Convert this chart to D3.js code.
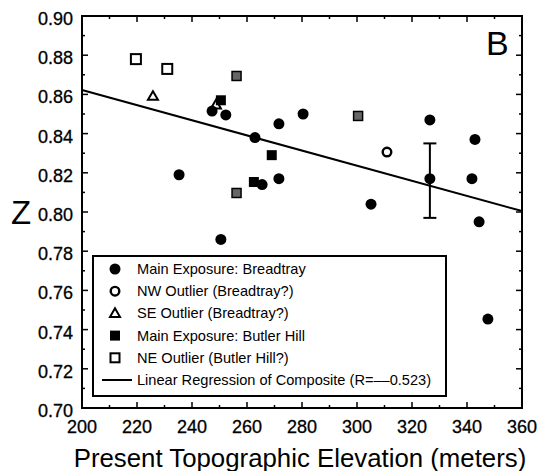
<!DOCTYPE html>
<html>
<head>
<meta charset="utf-8">
<script src="https://cdn.jsdelivr.net/npm/d3@7"></script>
<style>
    body { margin: 0; background: #fff; }
    svg { display: block; font-family: "Liberation Sans", Arial, Helvetica, sans-serif; }
</style>
</head>
<body>
<div class="svg-class"></div>
<script>
// data: [elevation (m), Z]
var mainBreadtray = [[235.3, 0.819], [247.3, 0.8515], [252.3, 0.8495], [262.9, 0.838], [265.5, 0.814],
    [250.5, 0.786], [271.6, 0.845], [280.4, 0.850], [271.6, 0.817], [305.1, 0.804], [326.5, 0.847],
    [326.5, 0.817], [342.9, 0.837], [341.8, 0.817], [344.4, 0.795], [347.6, 0.7454]];
var nwOutlier = [[310.9, 0.8306]];
var seOutlier = [[225.8, 0.859], [248.7, 0.8546]];
var mainButler = [[250.5, 0.857], [269.0, 0.829], [262.5, 0.8153]];
var neOutlier = [[219.6, 0.878], [231.0, 0.873]];
var neShaded = [[256.2, 0.8694], [256.2, 0.8097], [300.4, 0.849]];
var errorBar = [{ x: 326.5, lo: 0.797, hi: 0.835 }];
var regression = { x0: 200, y0: 0.8622, x1: 360, y1: 0.8005 };

var xTicks = [200, 220, 240, 260, 280, 300, 320, 340, 360];
var yTicks = [0.70, 0.72, 0.74, 0.76, 0.78, 0.80, 0.82, 0.84, 0.86, 0.88, 0.90];
var legendLabels = ["Main Exposure: Breadtray", "NW Outlier (Breadtray?)", "SE Outlier (Breadtray?)",
    "Main Exposure: Butler Hill", "NE Outlier (Butler Hill?)", "Linear Regression of Composite (R=\u2013\u20130.523)"];

var width = 541, height = 471;
var margin = { top: 16, right: 19, bottom: 63, left: 82 };

var svg = d3.select(".svg-class")
    .append("svg")
    .attr("width", width)
    .attr("height", height);

var x = d3.scaleLinear().domain([200, 360]).range([margin.left, width - margin.right]);
var y = d3.scaleLinear().domain([0.70, 0.90]).range([height - margin.bottom, margin.top]);

// minor ticks every 10 m / 0.01
var xMinor = d3.range(200, 361, 10);
var yMinor = d3.range(0, 21).map(function (i) { return 0.70 + i * 0.01; });

// ticks pointing inward on all four sides
function tickSize(major) { return major ? 6 : 3; }

var axes = svg.append("g").attr("stroke", "#000").attr("stroke-width", 1.5);
xMinor.forEach(function (v, i) {
    var L = tickSize(i % 2 === 0);
    axes.append("line").attr("x1", x(v)).attr("x2", x(v)).attr("y1", y(0.70)).attr("y2", y(0.70) - L);
    axes.append("line").attr("x1", x(v)).attr("x2", x(v)).attr("y1", y(0.90)).attr("y2", y(0.90) + L);
});
yMinor.forEach(function (v, i) {
    var L = tickSize(i % 2 === 0);
    axes.append("line").attr("y1", y(v)).attr("y2", y(v)).attr("x1", x(200)).attr("x2", x(200) + L);
    axes.append("line").attr("y1", y(v)).attr("y2", y(v)).attr("x1", x(360)).attr("x2", x(360) - L);
});

// tick labels (slight stroke to match the heavy scanned type)
svg.append("g").selectAll("text")
    .data(xTicks)
    .enter().append("text")
    .attr("x", function (d) { return x(d); })
    .attr("y", 433)
    .attr("text-anchor", "middle")
    .attr("font-size", "18px")
    .attr("stroke", "#000").attr("stroke-width", 0.3)
    .text(function (d) { return d; });

svg.append("g").selectAll("text")
    .data(yTicks)
    .enter().append("text")
    .attr("x", 73)
    .attr("y", function (d) { return y(d) + 9; })
    .attr("text-anchor", "end")
    .attr("font-size", "18px")
    .attr("stroke", "#000").attr("stroke-width", 0.3)
    .text(function (d) { return d3.format(".2f")(d); });

// axis titles
svg.append("text")
    .attr("x", 300)
    .attr("y", 467)
    .attr("text-anchor", "middle")
    .attr("font-size", "25.8px")
    .text("Present Topographic Elevation (meters)");

svg.append("text")
    .attr("x", 11)
    .attr("y", 224)
    .attr("font-size", "33px")
    .text("Z");

svg.append("text")
    .attr("x", 486)
    .attr("y", 55)
    .attr("font-size", "34px")
    .text("B");

// regression line
svg.append("line")
    .attr("x1", x(regression.x0)).attr("y1", y(regression.y0))
    .attr("x2", x(regression.x1)).attr("y2", y(regression.y1))
    .attr("stroke", "#000").attr("stroke-width", 2);

// error bar
var eb = svg.append("g").attr("stroke", "#000").attr("stroke-width", 2);
errorBar.forEach(function (d) {
    eb.append("line").attr("x1", x(d.x)).attr("x2", x(d.x)).attr("y1", y(d.lo)).attr("y2", y(d.hi));
    eb.append("line").attr("x1", x(d.x) - 6.5).attr("x2", x(d.x) + 6.5).attr("y1", y(d.lo)).attr("y2", y(d.lo));
    eb.append("line").attr("x1", x(d.x) - 6.5).attr("x2", x(d.x) + 6.5).attr("y1", y(d.hi)).attr("y2", y(d.hi));
});

// marker drawers
function triPath(cx, cy, s) {
    var h = s * 0.87;
    return "M" + cx + "," + (cy - h * 0.6) + "L" + (cx + s / 2) + "," + (cy + h * 0.4) + "L" + (cx - s / 2) + "," + (cy + h * 0.4) + "Z";
}
function drawCircles(g, data, filled) {
    g.selectAll(null).data(data).enter().append("circle")
        .attr("cx", function (d) { return x(d[0]); })
        .attr("cy", function (d) { return y(d[1]); })
        .attr("r", filled ? 5.5 : 4.3)
        .attr("fill", filled ? "#000" : "#fff")
        .attr("stroke", "#000")
        .attr("stroke-width", filled ? 0 : 2.4);
}
function drawSquares(g, data, fill, stroke, s) {
    g.selectAll(null).data(data).enter().append("rect")
        .attr("x", function (d) { return x(d[0]) - s / 2; })
        .attr("y", function (d) { return y(d[1]) - s / 2; })
        .attr("width", s)
        .attr("height", s)
        .attr("fill", fill)
        .attr("stroke", "#000")
        .attr("stroke-width", stroke);
}
function drawTriangles(g, data) {
    g.selectAll(null).data(data).enter().append("path")
        .attr("d", function (d) { return triPath(x(d[0]), y(d[1]), 10); })
        .attr("fill", "#fff")
        .attr("stroke", "#000")
        .attr("stroke-width", 2);
}

var pts = svg.append("g");
drawSquares(pts, neOutlier, "#fff", 2, 10);
drawSquares(pts, neShaded, "#666", 1.5, 9);
drawTriangles(pts, seOutlier);
drawSquares(pts, mainButler, "#000", 0, 10);
drawCircles(pts, mainBreadtray, true);
drawCircles(pts, nwOutlier, false);

// frame
svg.append("rect")
    .attr("x", x(200)).attr("y", y(0.90))
    .attr("width", x(360) - x(200)).attr("height", y(0.70) - y(0.90))
    .attr("fill", "none").attr("stroke", "#000").attr("stroke-width", 2);

// legend
var legend = svg.append("g");
legend.append("rect")
    .attr("x", 93).attr("y", 256).attr("width", 353).attr("height", 140)
    .attr("fill", "#fff").attr("stroke", "#000").attr("stroke-width", 2);

var rowY = function (i) { return 269 + i * 22.2; };
var sx = 115;
legend.append("circle").attr("cx", sx).attr("cy", rowY(0)).attr("r", 5.5).attr("fill", "#000");
legend.append("circle").attr("cx", sx).attr("cy", rowY(1)).attr("r", 4.3).attr("fill", "#fff").attr("stroke", "#000").attr("stroke-width", 2.4);
legend.append("path").attr("d", triPath(sx, rowY(2), 10)).attr("fill", "#fff").attr("stroke", "#000").attr("stroke-width", 2);
legend.append("rect").attr("x", sx - 5).attr("y", rowY(3) - 5).attr("width", 10).attr("height", 10).attr("fill", "#000");
legend.append("rect").attr("x", sx - 4.5).attr("y", rowY(4) - 4.5).attr("width", 9).attr("height", 9).attr("fill", "#fff").attr("stroke", "#000").attr("stroke-width", 2);
legend.append("line").attr("x1", 102).attr("x2", 132).attr("y1", rowY(5)).attr("y2", rowY(5)).attr("stroke", "#000").attr("stroke-width", 2);

legend.selectAll(".legend")
    .data(legendLabels)
    .enter().append("text")
    .attr("class", "legend")
    .attr("x", 137)
    .attr("y", function (d, i) { return rowY(i) + 5; })
    .attr("font-size", "14.6px")
    .text(function (d) { return d; });
</script>
</body>
</html>
